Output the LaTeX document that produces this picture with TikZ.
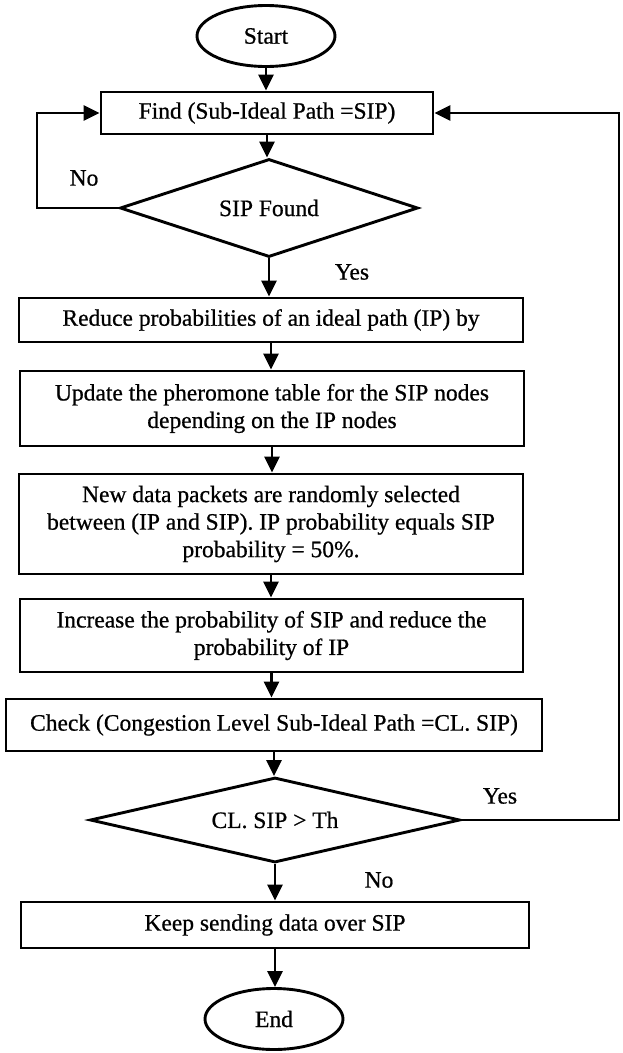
\documentclass[tikz,border=0pt]{standalone}
\usepackage{fontspec}
\setmainfont[FakeBold=0.7]{Liberation Serif}
\usetikzlibrary{arrows.meta,shapes.geometric}
\begin{document}
\begin{tikzpicture}[x=1pt,y=-1pt,
  txt/.style={font=\fontsize{23.5}{27.5}\selectfont},
  box/.style={txt,draw,line width=2.9pt,inner sep=0pt,align=center},
  term/.style={txt,ellipse,draw,line width=2.9pt,inner sep=0pt},
  dec/.style={txt,diamond,draw,line width=2.9pt,inner sep=0pt,aspect=3},
  arr/.style={line width=2.9pt,-{Triangle[width=15pt,length=16pt]}},
  lbl/.style={txt,inner sep=0pt}]
\useasboundingbox (0,0) rectangle (623,1053);
\node[term,minimum width=138pt,minimum height=61pt] (start) at (266,36) {Start};
\node[box,minimum width=332pt,minimum height=42pt] (find) at (267,113) {Find (Sub-Ideal Path =SIP)};
\node[dec,minimum width=298pt,minimum height=98pt] (d1) at (269,208) {SIP Found};
\node[box,minimum width=504pt,minimum height=44pt] (reduce) at (271,320) {Reduce probabilities of an ideal path (IP) by};
\node[box,minimum width=504pt,minimum height=75pt] (update) at (272,408.5) {Update the pheromone table for the SIP nodes\\depending on the IP nodes};
\node[box,minimum width=504pt,minimum height=100pt] (newdata) at (271,524) {New data packets are randomly selected\\between (IP and SIP). IP probability equals SIP\\probability = 50\%.};
\node[box,minimum width=503pt,minimum height=73pt] (incr) at (271.5,635.5) {Increase the probability of SIP and reduce the\\probability of IP};
\node[box,minimum width=536pt,minimum height=52pt] (check) at (274,725) {Check (Congestion Level Sub-Ideal Path =CL. SIP)};
\node[dec,minimum width=370pt,minimum height=85pt] (d2) at (275,820) {CL. SIP > Th};
\node[box,minimum width=508pt,minimum height=46pt] (keep) at (275,925) {Keep sending data over SIP};
\node[term,minimum width=138pt,minimum height=61pt] (end) at (274,1019) {End};
\node[lbl] (no1) at (84,178) {No};
\node[lbl] (yes1) at (352,272) {Yes};
\node[lbl] (yes2) at (500,796) {Yes};
\node[lbl] (no2) at (379,880) {No};
\coordinate (cl) at (37,0);
\coordinate (cr) at (619,0);
\draw[arr] (start.south) -- (start.south |- find.north);
\draw[arr] (find.south) -- (find.south |- d1.north);
\draw[arr] (d1.south) -- (d1.south |- reduce.north);
\draw[arr] (reduce.south) -- (reduce.south |- update.north);
\draw[arr] (update.south) -- (update.south |- newdata.north);
\draw[arr] (newdata.south) -- (newdata.south |- incr.north);
\draw[arr] (incr.south) -- (incr.south |- check.north);
\draw[arr] (check.south) -- (check.south |- d2.north);
\draw[arr] (d2.south) -- (d2.south |- keep.north);
\draw[arr] (keep.south) -- (keep.south |- end.north);
\draw[arr] (d1.west) -- (d1.west -| cl) |- (find.west);
\draw[arr] (d2.east) -- (d2.east -| cr) |- (find.east);
\end{tikzpicture}
\end{document}
